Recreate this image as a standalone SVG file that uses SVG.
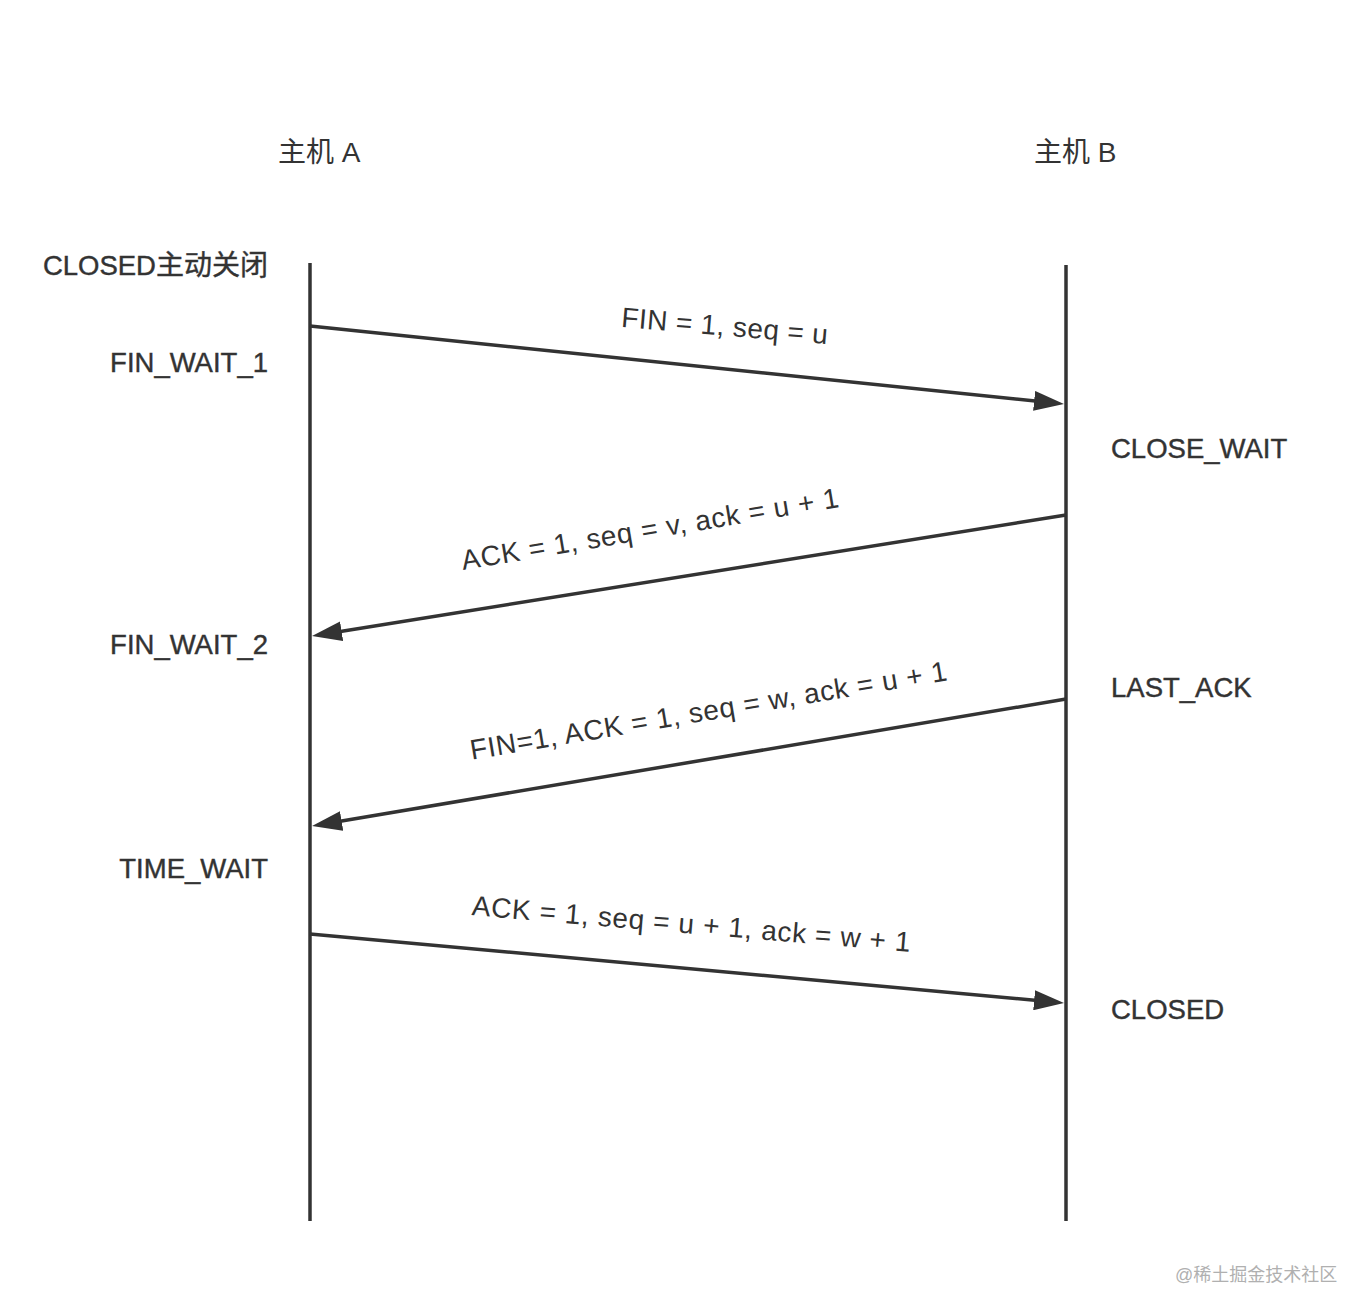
<svg xmlns="http://www.w3.org/2000/svg" width="1368" height="1316" viewBox="0 0 1368 1316">
<style>
text{font-family:"Liberation Sans","Noto Sans CJK SC",sans-serif;fill:#333}
.host{font-size:28px}
.state{font-size:27.5px;stroke:#333;stroke-width:0.4}
.cjk{font-size:28px}
.msg{font-size:28px}
.life{stroke:#333;stroke-width:3.5;fill:none}
.arr{stroke:#333;stroke-width:3.5;fill:none;marker-end:url(#ah)}
.wm{font-size:18px;fill:#b0b0b0}
</style>
<defs>
<marker id="ah" markerUnits="userSpaceOnUse" markerWidth="30" markerHeight="20" refX="6" refY="10" orient="auto" viewBox="0 0 30 20">
<path d="M0,0 L30,10 L0,20 Z" fill="#333"/>
</marker>
</defs>
<rect width="1368" height="1316" fill="#fff"/>
<g id="hostA">
<text class="host" x="278" y="162">主机 A</text>
<line class="life" x1="310" y1="263" x2="310" y2="1221"/>
</g>
<g id="hostB">
<text class="host" x="1034" y="162">主机 B</text>
<line class="life" x1="1066" y1="265" x2="1066" y2="1221"/>
</g>
<g id="states">
<text class="state" x="268" y="275" text-anchor="end">CLOSED<tspan class="cjk">主动关闭</tspan></text>
<text class="state" x="268" y="372" text-anchor="end">FIN_WAIT_1</text>
<text class="state" x="1111" y="458">CLOSE_WAIT</text>
<text class="state" x="268" y="654" text-anchor="end">FIN_WAIT_2</text>
<text class="state" x="1111" y="697">LAST_ACK</text>
<text class="state" x="268" y="878" text-anchor="end">TIME_WAIT</text>
<text class="state" x="1111" y="1019">CLOSED</text>
</g>
<g id="connectors">
<line class="arr" x1="310" y1="326" x2="1040.1" y2="401.5"/>
<line class="arr" x1="1066" y1="515" x2="335.7" y2="632.2"/>
<line class="arr" x1="1066" y1="699" x2="335.7" y2="822"/>
<line class="arr" x1="310" y1="934" x2="1040.1" y2="1000.8"/>
</g>
<g id="labels">
<text class="msg" text-anchor="middle" textLength="207" lengthAdjust="spacing" transform="translate(724,335.5) rotate(4.8)">FIN = 1, seq = u</text>
<text class="msg" text-anchor="middle" textLength="382" lengthAdjust="spacing" transform="translate(651.5,538.5) rotate(-9.5)">ACK = 1, seq = v, ack = u + 1</text>
<text class="msg" text-anchor="middle" textLength="483" lengthAdjust="spacing" transform="translate(710,720) rotate(-9.5)">FIN=1, ACK = 1, seq = w, ack = u + 1</text>
<text class="msg" text-anchor="middle" textLength="440" lengthAdjust="spacing" transform="translate(690.5,933.5) rotate(4.8)">ACK = 1, seq = u + 1, ack = w + 1</text>
</g>
<text class="wm" x="1175" y="1281">@稀土掘金技术社区</text>
</svg>
